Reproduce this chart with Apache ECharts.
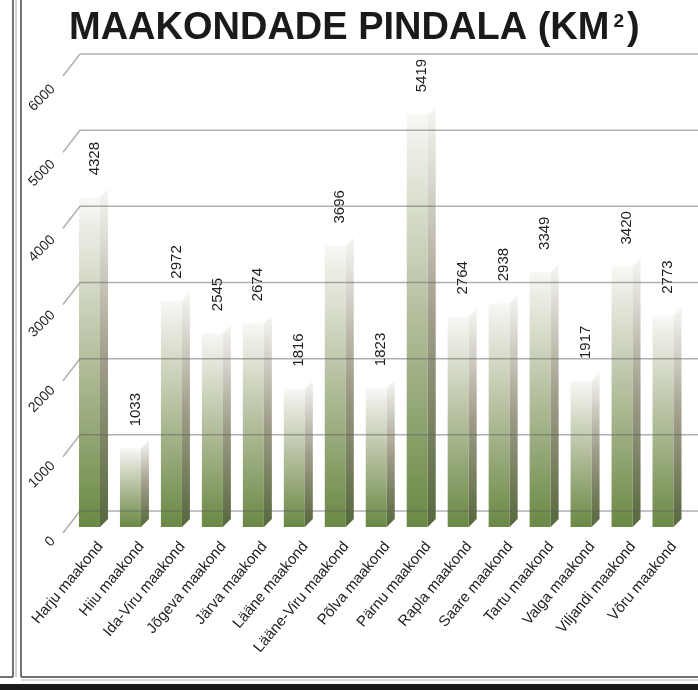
<!DOCTYPE html>
<html>
<head>
<meta charset="utf-8">
<script src="https://cdn.jsdelivr.net/npm/echarts@6/dist/echarts.min.js"></script>
<style>
  html, body { margin: 0; padding: 0; background: #fff; }
  #chart { width: 698px; height: 690px; }
</style>
</head>
<body>
<div id="chart"></div>
<script>
// andmed
const counties = [
  'Harju maakond', 'Hiiu maakond', 'Ida-Viru maakond', 'Jõgeva maakond', 'Järva maakond',
  'Lääne maakond', 'Lääne-Viru maakond', 'Põlva maakond', 'Pärnu maakond', 'Rapla maakond',
  'Saare maakond', 'Tartu maakond', 'Valga maakond', 'Viljandi maakond', 'Võru maakond'
];
const areas = [4328, 1033, 2972, 2545, 2674, 1816, 3696, 1823, 5419, 2764, 2938, 3349, 1917, 3420, 2773];
const yTicks = [0, 1000, 2000, 3000, 4000, 5000, 6000];

const FONT = "'Liberation Sans', Arial, sans-serif";
const FRONT_W = 21;   // esikülje laius
const SIDE_DX = 8;    // külje sügavus
const SIDE_DY = 8;
const WALL_DX = 17;   // põranda diagonaalid
const WALL_DY = 22;
const LINE_COLOR = 'rgba(95, 95, 95, 0.5)';

const chart = echarts.init(document.getElementById('chart'));

// 3D-laadne tulp: esikülg + külg + väärtus
const renderBar = (params, api) => {
  const idx = api.value(0);
  const val = api.value(1);
  const base = api.coord([idx, 0]);
  const top = api.coord([idx, val]);
  const x0 = base[0] - FRONT_W / 2;
  const x1 = x0 + FRONT_W;
  return {
    type: 'group',
    children: [
      {
        type: 'rect',
        shape: { x: x0, y: top[1], width: FRONT_W, height: base[1] - top[1] },
        style: {
          fill: new echarts.graphic.LinearGradient(0, 0, 0, 1, [
            { offset: 0, color: '#f8f8f5' },
            { offset: 0.45, color: '#b9c3a4' },
            { offset: 1, color: '#6a8843' }
          ])
        }
      },
      {
        type: 'polygon',
        shape: {
          points: [
            [x1, base[1]],
            [x1 + SIDE_DX, base[1] - SIDE_DY],
            [x1 + SIDE_DX, top[1] - SIDE_DY],
            [x1, top[1]]
          ]
        },
        style: {
          fill: new echarts.graphic.LinearGradient(0, 0, 0, 1, [
            { offset: 0, color: '#f6f5f2' },
            { offset: 0.5, color: '#a19d8a' },
            { offset: 1, color: '#55683b' }
          ])
        }
      },
      {
        type: 'text',
        x: base[0] + 5,
        y: top[1] - 22,
        rotation: Math.PI / 2,
        style: {
          text: String(val),
          align: 'left',
          verticalAlign: 'middle',
          font: '15px ' + FONT,
          fill: '#1e1e1e'
        }
      }
    ]
  };
};

// tagaseina jooned ja diagonaalid
const renderWall = (params, api) => {
  const cs = params.coordSys;
  const y = api.coord([0, api.value(1)])[1];
  return {
    type: 'group',
    children: [
      {
        type: 'line',
        shape: { x1: cs.x, y1: y, x2: cs.x + cs.width, y2: y },
        style: { stroke: LINE_COLOR, lineWidth: 1.5 }
      },
      {
        type: 'line',
        shape: { x1: cs.x, y1: y, x2: cs.x - WALL_DX, y2: y + WALL_DY },
        style: { stroke: LINE_COLOR, lineWidth: 1.5 }
      }
    ]
  };
};

const hiddenAxis = { show: false };

const option = {
  backgroundColor: '#fff',
  animation: false,
  title: {
    left: 64,
    top: 5,
    text: '{t|MAAKONDADE PINDALA (KM}{s|2}{t|)}',
    textStyle: {
      rich: {
        t: { fontFamily: FONT, fontWeight: 'bold', fontSize: 38, color: '#1a1a1a' },
        s: { fontFamily: FONT, fontWeight: 'bold', fontSize: 19, color: '#1a1a1a', verticalAlign: 'top', padding: [2, 3, 0, 4] }
      }
    }
  },
  graphic: [
    { type: 'line', shape: { x1: 13, y1: 0, x2: 13, y2: 677 }, style: { stroke: '#444', lineWidth: 1.5 } },
    { type: 'line', shape: { x1: 16, y1: 0, x2: 16, y2: 677 }, style: { stroke: '#aaa', lineWidth: 1 } },
    { type: 'line', shape: { x1: 0, y1: 677, x2: 13, y2: 677 }, style: { stroke: '#444', lineWidth: 1.5 } },
    { type: 'line', shape: { x1: 21, y1: 0, x2: 21, y2: 677 }, style: { stroke: '#444', lineWidth: 1.5 } },
    { type: 'line', shape: { x1: 21, y1: 677, x2: 698, y2: 677 }, style: { stroke: '#444', lineWidth: 1.5 } },
    { type: 'line', shape: { x1: 21, y1: 680, x2: 698, y2: 680 }, style: { stroke: '#bbb', lineWidth: 1 } },
    { type: 'rect', shape: { x: 0, y: 684, width: 698, height: 6 }, style: { fill: '#1b1b1b' } }
  ],
  grid: [
    { left: 80, right: 0, top: 54, bottom: 179 },      // tagasein
    { left: 69, right: 14.5, top: 70, bottom: 163 },   // tulbad
    { left: 57, right: 600, top: 87, bottom: 151 },    // y-sildid
    { left: 80, right: 3.5, top: 70, bottom: 163 }     // x-sildid
  ],
  xAxis: [
    { gridIndex: 0, type: 'value', min: 0, max: 1, ...hiddenAxis },
    { gridIndex: 1, type: 'category', data: counties, ...hiddenAxis },
    { gridIndex: 2, type: 'value', min: 0, max: 1, ...hiddenAxis },
    {
      gridIndex: 3,
      type: 'category',
      data: counties,
      axisLine: { show: false },
      axisTick: { show: false },
      axisLabel: { interval: 0, rotate: 50, margin: 17, fontFamily: FONT, fontSize: 15, color: '#1e1e1e' }
    }
  ],
  yAxis: [
    { gridIndex: 0, type: 'value', min: 0, max: 6000, interval: 1000, ...hiddenAxis },
    { gridIndex: 1, type: 'value', min: 0, max: 6000, interval: 1000, ...hiddenAxis },
    {
      gridIndex: 2,
      type: 'value',
      min: 0,
      max: 6000,
      interval: 1000,
      axisLine: { show: false },
      axisTick: { show: false },
      splitLine: { show: false },
      axisLabel: {
        rotate: 45,
        margin: 4,
        fontFamily: FONT,
        fontSize: 14,
        color: '#1e1e1e',
        formatter: v => String(v)
      }
    },
    { gridIndex: 3, type: 'value', min: 0, max: 6000, ...hiddenAxis }
  ],
  series: [
    {
      type: 'custom',
      xAxisIndex: 1,
      yAxisIndex: 1,
      z: 2,
      renderItem: renderBar,
      data: areas.map((v, i) => [i, v])
    },
    {
      type: 'custom',
      xAxisIndex: 0,
      yAxisIndex: 0,
      z: 3,
      silent: true,
      renderItem: renderWall,
      data: yTicks.map(v => [0, v])
    }
  ]
};

chart.setOption(option);
</script>
</body>
</html>
